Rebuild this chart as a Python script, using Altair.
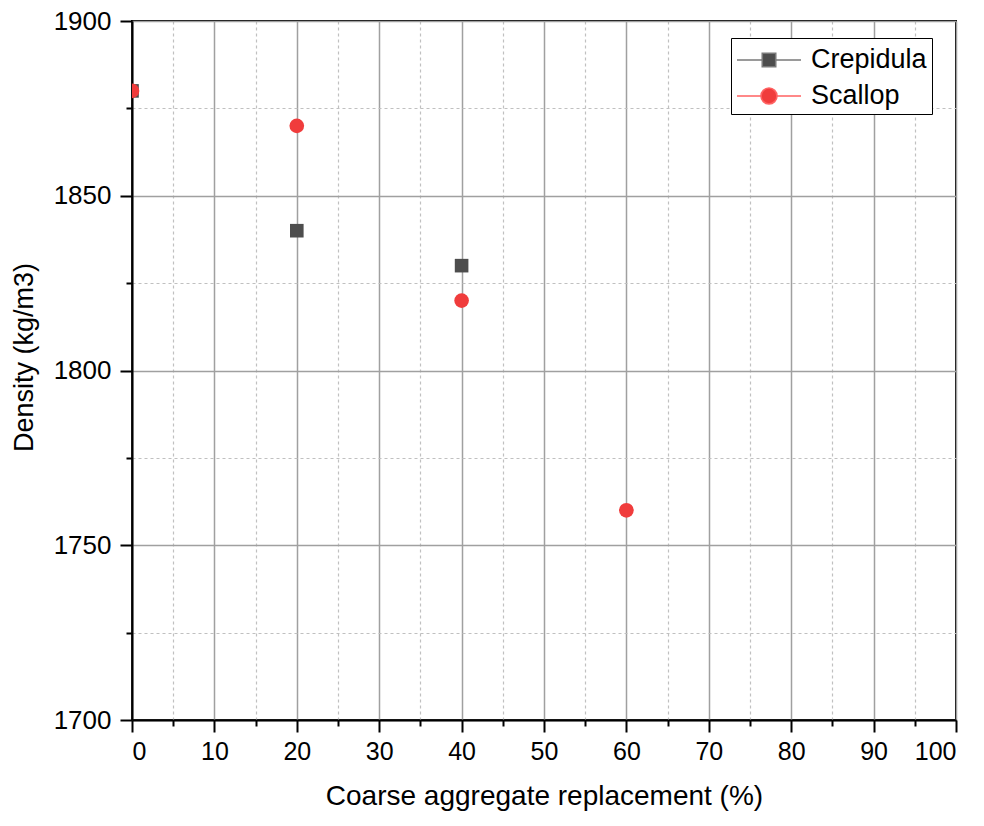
import altair as alt
import pandas as pd

# ---- data ----
crep_x = [0, 20, 40]
crep_y = [1880, 1840, 1830]
scal_x = [0, 20, 40, 60]
scal_y = [1880, 1870, 1820, 1760]
series = ["Crepidula", "Scallop"]

x_major = [0, 10, 20, 30, 40, 50, 60, 70, 80, 90, 100]
x_minor = [5, 15, 25, 35, 45, 55, 65, 75, 85, 95]
y_major = [1700, 1750, 1800, 1850, 1900]
y_minor = [1725, 1775, 1825, 1875]

df = pd.DataFrame({
    "x": crep_x + scal_x,
    "y": crep_y + scal_y,
    "series": [series[0]] * len(crep_x) + [series[1]] * len(scal_x),
})

FONT = "Liberation Sans"
xs = alt.Scale(domain=[0, 100], nice=False, zero=False)
ys = alt.Scale(domain=[1700, 1900], nice=False, zero=False)

base = alt.Chart(df)

# minor ticks + dashed grid
minor = base.mark_point(opacity=0).encode(
    x=alt.X("x:Q", scale=xs, axis=alt.Axis(
        orient="bottom", values=x_minor, labels=False, title=None, domain=False,
        tickSize=6, tickWidth=2, tickColor="black",
        grid=True, gridColor="#c0c0c0", gridDash=[3, 3], gridWidth=1.2)),
    y=alt.Y("y:Q", scale=ys, axis=alt.Axis(
        orient="left", values=y_minor, labels=False, title=None, domain=False,
        tickSize=6, tickWidth=2, tickColor="black",
        grid=True, gridColor="#c0c0c0", gridDash=[3, 3], gridWidth=1.2)),
)

# major ticks, labels, titles, solid grid
major = base.mark_point(opacity=0).encode(
    x=alt.X("x:Q", scale=xs, axis=alt.Axis(
        orient="bottom", values=x_major, format="d",
        title="Coarse aggregate replacement (%)",
        domain=True, domainColor="black", domainWidth=2,
        tickSize=12, tickWidth=2, tickColor="black",
        labelFont=FONT, labelFontSize=25, labelColor="black", labelPadding=7,
        titleFont=FONT, titleFontSize=28, titleFontWeight="normal", titleColor="black",
        titlePadding=18,
        grid=True, gridColor="#a0a0a0", gridWidth=1.5)),
    y=alt.Y("y:Q", scale=ys, axis=alt.Axis(
        orient="left", values=y_major, format="d",
        title="Density (kg/m3)",
        domain=True, domainColor="black", domainWidth=2,
        tickSize=12, tickWidth=2, tickColor="black",
        labelFont=FONT, labelFontSize=26, labelColor="black", labelPadding=9,
        titleFont=FONT, titleFontSize=27, titleFontWeight="normal", titleColor="black",
        titlePadding=15, titleY=336,
        grid=True, gridColor="#a0a0a0", gridWidth=1.5)),
)

squares = base.transform_filter(alt.datum.series == series[0]).mark_square(
    size=185, color="#4d4d4d", opacity=1, clip=True
).encode(
    x=alt.X("x:Q", scale=xs, axis=None),
    y=alt.Y("y:Q", scale=ys, axis=None),
)

circles = base.transform_filter(alt.datum.series == series[1]).mark_circle(
    size=215, color="#f03c3c", opacity=1, clip=True
).encode(
    x=alt.X("x:Q", scale=xs, axis=None),
    y=alt.Y("y:Q", scale=ys, axis=None),
)

# legend glyphs: line with marker, path spans [-2, 2] around a nominal 32px symbol
sq_path = "M-2,0H-0.42M0.42,0H2M-0.42,-0.42H0.42V0.42H-0.42Z"
ci_path = ("M-2,0H-0.5M0.5,0H2M-0.5,0A0.5,0.5 0 1,0 0.5,0"
           "A0.5,0.5 0 1,0 -0.5,0Z")

leg = alt.Legend(
    title=None, orient="none", legendX=599, legendY=17,
    labelFont=FONT, labelFontSize=27, labelColor="black", labelOffset=25,
    symbolSize=1024, symbolStrokeWidth=1.6, symbolOffset=16, rowPadding=6,
    padding=5, strokeColor="black", fillColor="white",
)

legend_layer = base.transform_filter("false").mark_point(
    filled=True, opacity=1, strokeWidth=1.6
).encode(
    x=alt.X("x:Q", scale=xs, axis=None),
    y=alt.Y("y:Q", scale=ys, axis=None),
    fill=alt.Fill("series:N", scale=alt.Scale(domain=series, range=["#4d4d4d", "#f03c3c"]), legend=leg),
    stroke=alt.Stroke("series:N", scale=alt.Scale(domain=series, range=["#7a7a7a", "#ff6262"]), legend=leg),
    shape=alt.Shape("series:N", scale=alt.Scale(domain=series, range=[sq_path, ci_path]), legend=leg),
)

chart = alt.layer(minor, major, squares, circles, legend_layer).resolve_axis(
    x="independent", y="independent"
).properties(
    width=824, height=699, autosize="none",
    padding={"left": 124, "top": 13, "right": 20, "bottom": 98},
    background="white",
).configure_view(stroke="black", strokeWidth=2)

chart.save("out.html", embed_options={"renderer": "svg", "actions": False})
